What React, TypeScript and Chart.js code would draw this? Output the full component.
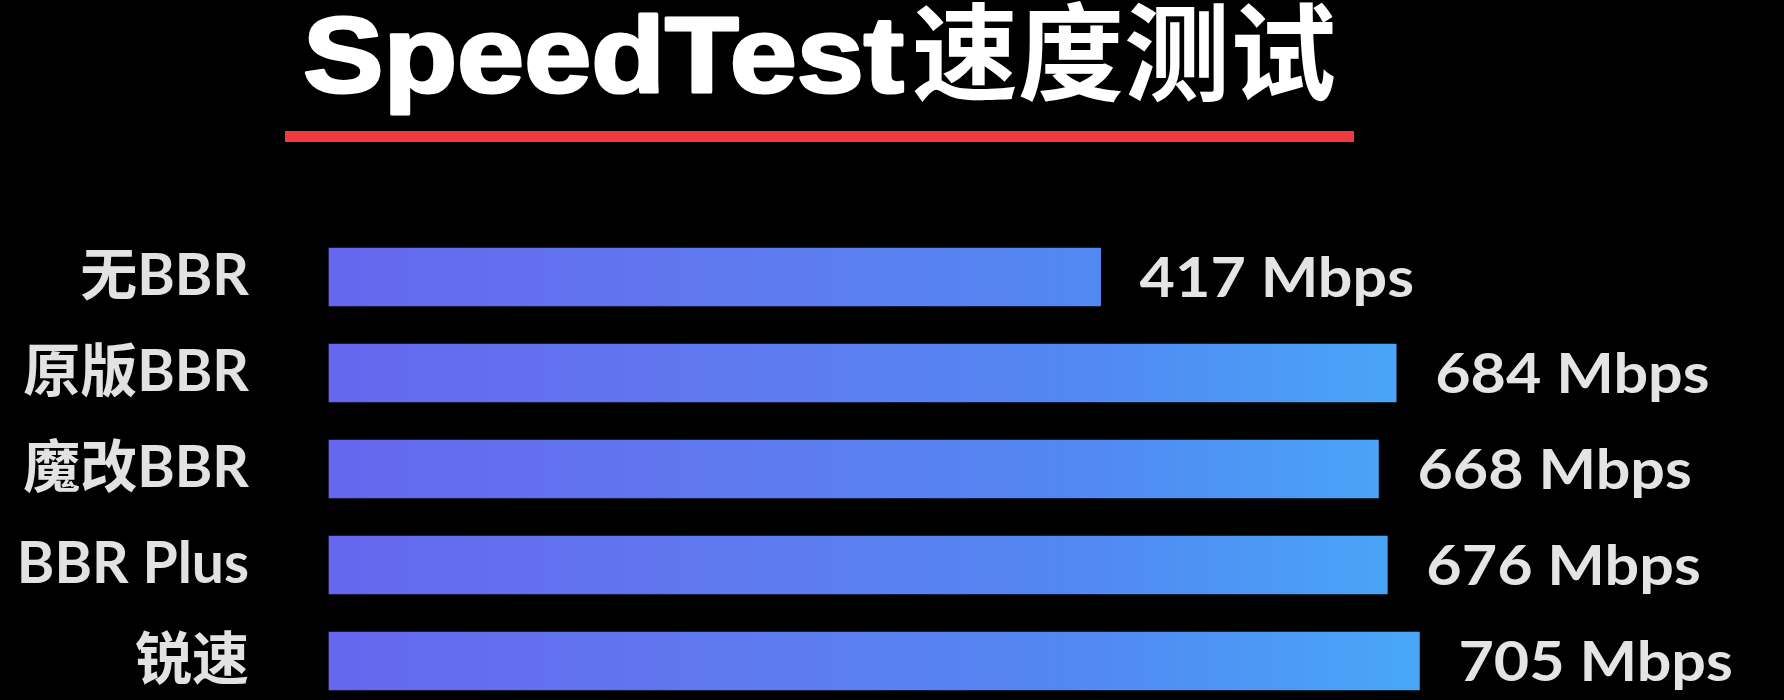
import React, { useEffect, useRef } from "react";
import { Chart, registerables } from "chart.js";

Chart.register(...registerables);

// ---- data ----
const titleLatin = "SpeedTest";
const titleCjk = "速度测试";
const categories = ["无BBR", "原版BBR", "魔改BBR", "BBR Plus", "锐速"];
const speedsMbps = [417, 684, 668, 676, 705];
const unitLabel = "Mbps";
// value axis range (the original chart does not start its bars at zero)
const axisStart = -280;
const axisEnd = 1000;

const FONT = "Lato, 'Noto Sans CJK SC', sans-serif";

const titlePlugin = {
  id: "speedTitle",
  afterDraw(chart: any) {
    const ctx = chart.ctx as CanvasRenderingContext2D;
    ctx.save();
    ctx.fillStyle = "#ffffff";
    ctx.strokeStyle = "#ffffff";
    ctx.textBaseline = "alphabetic";
    ctx.textAlign = "left";
    ctx.font = "bold 108px 'Liberation Sans', Arial, sans-serif";
    const w = ctx.measureText(titleLatin).width;
    const targetW = 601;
    ctx.save();
    ctx.translate(303, 92);
    ctx.scale(targetW / w, 1);
    ctx.lineWidth = 3;
    ctx.lineJoin = "round";
    ctx.fillText(titleLatin, 0, 0);
    ctx.strokeText(titleLatin, 0, 0);
    ctx.restore();
    ctx.font = "bold 106px 'Noto Sans CJK SC', sans-serif";
    ctx.fillText(titleCjk, 912, 92);
    ctx.fillStyle = "#ef3a3e";
    ctx.fillRect(285, 131, 1069, 11);
    ctx.restore();
  },
};

const valueLabelPlugin = {
  id: "valueLabels",
  afterDatasetsDraw(chart: any) {
    const ctx = chart.ctx as CanvasRenderingContext2D;
    const meta = chart.getDatasetMeta(0);
    ctx.save();
    ctx.fillStyle = "#e4e4e4";
    ctx.font = `bold 56px ${FONT}`;
    ctx.textAlign = "left";
    ctx.textBaseline = "middle";
    meta.data.forEach((el: any, i: number) => {
      const txt = `${speedsMbps[i]} ${unitLabel}`;
      ctx.save();
      ctx.translate(el.x + 39, el.y + 2);
      ctx.scale(1.09, 1);
      ctx.fillText(txt, 0, 0);
      ctx.restore();
    });
    ctx.restore();
  },
};

export default function App() {
  const ref = useRef<HTMLCanvasElement | null>(null);

  useEffect(() => {
    if (!ref.current) return;
    const chart = new Chart(ref.current, {
      type: "bar",
      data: {
        labels: categories,
        datasets: [
          {
            data: speedsMbps,
            base: axisStart,
            barThickness: 58,
            borderWidth: 0,
            clip: false as any,
            backgroundColor: (c: any) => {
              const ch = c.chart;
              const area = ch.chartArea;
              if (!area) return "#6366ee";
              const xs = ch.scales.x;
              const x0 = area.left;
              const x1 = xs.getPixelForValue(Math.max(...speedsMbps)) + 40;
              const g = ch.ctx.createLinearGradient(x0, 0, x1, 0);
              g.addColorStop(0, "#6567ee");
              g.addColorStop(0.37, "#5f7af0");
              g.addColorStop(0.68, "#5189f2");
              g.addColorStop(1, "#47abf8");
              return g;
            },
          } as any,
        ],
      },
      options: {
        indexAxis: "y",
        responsive: false,
        animation: false,
        devicePixelRatio: 1,
        layout: { padding: { top: 277, bottom: 39, left: 0, right: 38 } },
        plugins: {
          legend: { display: false },
          tooltip: { enabled: false },
          title: { display: false },
        },
        scales: {
          x: { display: false, min: axisStart, max: axisEnd },
          y: {
            offset: false,
            grid: { display: false, drawTicks: false },
            border: { display: false },
            ticks: {
              color: "#e2e2e2",
              padding: 80,
              font: { family: FONT, size: 57, weight: "bold" },
            },
            afterFit: (s: any) => {
              s.width = 329;
              s.paddingTop = 0;
              s.paddingBottom = 0;
            },
          },
        },
      },
      plugins: [titlePlugin, valueLabelPlugin],
    } as any);
    return () => chart.destroy();
  }, []);

  return (
    <div style={{ position: "fixed", left: 0, top: 0, width: 1784, height: 700, background: "#000" }}>
      <canvas ref={ref} width={1784} height={700} style={{ display: "block" }} />
    </div>
  );
}
